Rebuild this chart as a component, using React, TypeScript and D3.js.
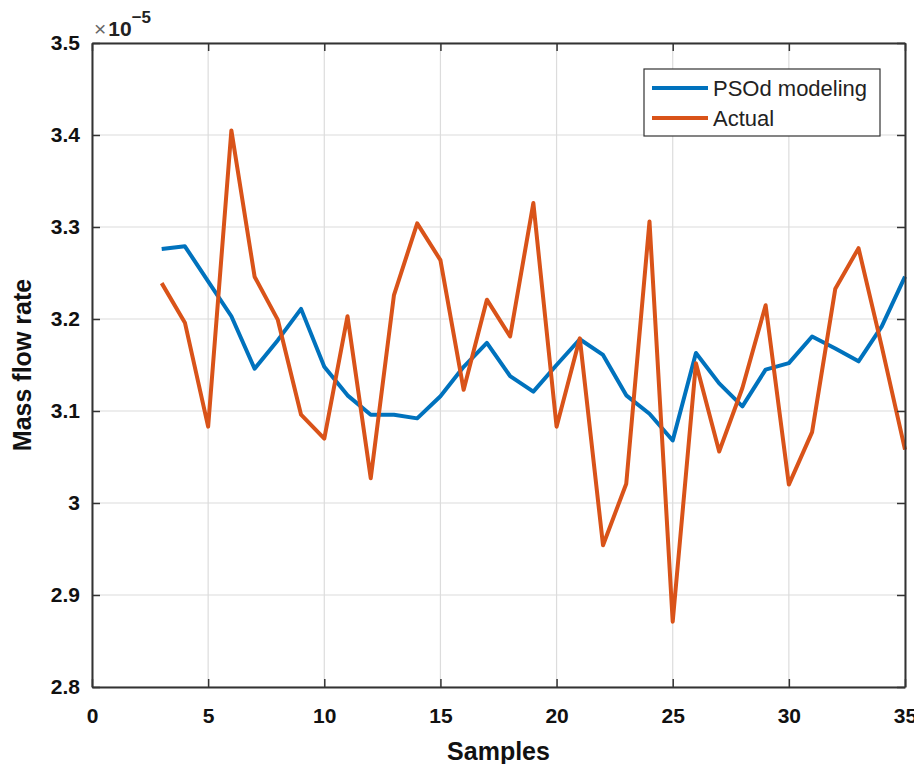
import React, { useRef, useEffect } from "react";
import { select, scaleLinear, axisBottom, axisLeft, axisTop, axisRight, line, range } from "d3";

// samples 3..35
const samples = range(3, 36);

// PSOd modeling (x1e-5)
const psodValues = [
  3.276, 3.279, 3.241, 3.203, 3.146, 3.177, 3.211, 3.148, 3.117, 3.096,
  3.096, 3.092, 3.116, 3.148, 3.174, 3.138, 3.121, 3.150, 3.178, 3.161,
  3.117, 3.097, 3.068, 3.163, 3.130, 3.105, 3.145, 3.152, 3.181, 3.168,
  3.154, 3.192, 3.246,
];

// Actual (x1e-5)
const actualValues = [
  3.239, 3.196, 3.083, 3.405, 3.246, 3.199, 3.096, 3.070, 3.203, 3.027,
  3.226, 3.304, 3.264, 3.123, 3.221, 3.181, 3.326, 3.083, 3.179, 2.954,
  3.021, 3.306, 2.871, 3.152, 3.056, 3.125, 3.215, 3.020, 3.077, 3.233,
  3.277, 3.170, 3.058,
];

const xTicks = [0, 5, 10, 15, 20, 25, 30, 35];
const yTicks = [2.8, 2.9, 3, 3.1, 3.2, 3.3, 3.4, 3.5];
const seriesNames = ["PSOd modeling", "Actual"];
const seriesColors = ["#0072BD", "#D95319"];

const W = 922;
const H = 772;
const left = 92;
const right = 905;
const top = 43;
const bottom = 687;
const FONT = "'Liberation Sans', Arial, sans-serif";

function Chart() {
  const svgRef = useRef<SVGSVGElement>(null);

  useEffect(() => {
    const svg = select(svgRef.current);
    svg.selectAll("*").remove();

    const x = scaleLinear().domain([0, 35]).range([left, right]);
    const y = scaleLinear().domain([2.8, 3.5]).range([bottom, top]);

    svg.append("rect").attr("x", left).attr("y", top)
      .attr("width", right - left).attr("height", bottom - top).attr("fill", "#fff");

    // grid
    const grid = svg.append("g").attr("stroke", "#dcdcdc").attr("stroke-width", 1.2);
    xTicks.forEach((t) => {
      grid.append("line").attr("x1", x(t)).attr("x2", x(t)).attr("y1", top).attr("y2", bottom);
    });
    yTicks.forEach((t) => {
      grid.append("line").attr("x1", left).attr("x2", right).attr("y1", y(t)).attr("y2", y(t));
    });

    // series
    const series = [psodValues, actualValues];
    series.forEach((vals, i) => {
      const pts = samples.map((s, j) => [s, vals[j]] as [number, number]);
      svg.append("path")
        .datum(pts)
        .attr("d", line<[number, number]>().x((d) => x(d[0])).y((d) => y(d[1])))
        .attr("fill", "none")
        .attr("stroke", seriesColors[i])
        .attr("stroke-width", 4)
        .attr("stroke-linejoin", "round");
    });

    // axes (box with inward ticks)
    const axColor = "#333";
    const styleAxis = (g: any) => {
      g.select(".domain").attr("stroke", axColor).attr("stroke-width", 2);
      g.selectAll(".tick line").attr("stroke", axColor).attr("stroke-width", 1.5);
      g.selectAll("text")
        .attr("font-family", FONT)
        .attr("font-weight", "bold")
        .attr("font-size", 21)
        .attr("fill", "#111");
    };

    svg.append("g").attr("transform", `translate(0,${bottom})`)
      .call(axisBottom(x).tickValues(xTicks).tickSizeInner(-8).tickSizeOuter(0).tickPadding(21).tickFormat((d: any) => String(d)))
      .call(styleAxis);
    svg.append("g").attr("transform", `translate(${left},0)`)
      .call(axisLeft(y).tickValues(yTicks).tickSizeInner(-8).tickSizeOuter(0).tickPadding(12).tickFormat((d: any) => String(+d.toFixed(1))))
      .call(styleAxis);
    svg.append("g").attr("transform", `translate(0,${top})`)
      .call(axisTop(x).tickValues(xTicks).tickSizeInner(-8).tickSizeOuter(0).tickFormat(() => ""))
      .call(styleAxis);
    svg.append("g").attr("transform", `translate(${right},0)`)
      .call(axisRight(y).tickValues(yTicks).tickSizeInner(-8).tickSizeOuter(0).tickFormat(() => ""))
      .call(styleAxis);

    // exponent
    const ex = svg.append("text").attr("x", 94).attr("y", 36)
      .attr("font-family", FONT).attr("font-size", 21).attr("fill", "#222");
    ex.append("tspan").text("×").attr("font-weight", "normal").attr("fill", "#666");
    ex.append("tspan").text("10").attr("font-weight", "bold").attr("dx", 2);
    ex.append("tspan").text("−5").attr("font-weight", "bold").attr("font-size", 17).attr("dy", -13);

    // axis labels
    svg.append("text").attr("x", (left + right) / 2).attr("y", 760)
      .attr("text-anchor", "middle").attr("font-family", FONT).attr("font-weight", "bold")
      .attr("font-size", 25).attr("fill", "#111").text("Samples");
    svg.append("text").attr("transform", `translate(31,${(top + bottom) / 2}) rotate(-90)`)
      .attr("text-anchor", "middle").attr("font-family", FONT).attr("font-weight", "bold")
      .attr("font-size", 25).attr("fill", "#111").text("Mass flow rate");

    // legend
    const lg = svg.append("g");
    lg.append("rect").attr("x", 644).attr("y", 69).attr("width", 236).attr("height", 67)
      .attr("fill", "#fff").attr("stroke", "#333").attr("stroke-width", 1.2);
    seriesNames.forEach((name, i) => {
      const ly = 88 + i * 30;
      lg.append("line").attr("x1", 652).attr("x2", 708).attr("y1", ly).attr("y2", ly)
        .attr("stroke", seriesColors[i]).attr("stroke-width", 4);
      lg.append("text").attr("x", 713).attr("y", ly + 8).attr("font-family", FONT)
        .attr("font-size", 22).attr("fill", "#222").text(name);
    });
  }, []);

  return <svg ref={svgRef} width={W} height={H} style={{ display: "block" }} />;
}

export default function App() {
  return (
    <div style={{ margin: -8, background: "#fff" }}>
      <Chart />
    </div>
  );
}
